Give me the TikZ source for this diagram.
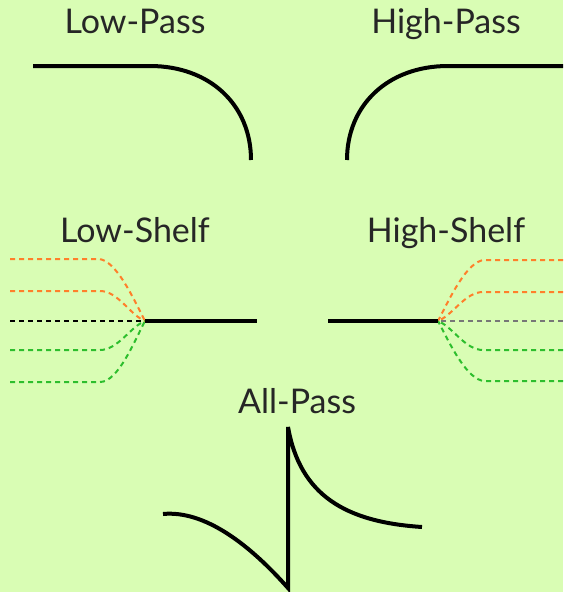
\documentclass[tikz,border=0pt]{standalone}
\usepackage{fontspec}
\setmainfont{Lato}
\definecolor{bg}{HTML}{D9FDB4}
\definecolor{orng}{HTML}{FF7F2A}
\definecolor{grn}{HTML}{2DBE2D}
\definecolor{gry}{HTML}{777777}
\begin{document}
\begin{tikzpicture}[x=1pt,y=-1pt,
  curve/.style={line width=4pt,black},
  shelf/.style={line width=2pt,dash pattern=on 5pt off 4pt},
  lbl/.style={font=\fontsize{34}{38}\selectfont,text=black!85,inner sep=0pt,anchor=base}]
\fill[bg] (0,0) rectangle (563,592);
\useasboundingbox (0,0) rectangle (563,592);
% titles
\node[lbl] (lp) at (135,33) {Low-Pass};
\node[lbl] (hp) at (446,33) {High-Pass};
\node[lbl] (ls) at (135,242) {Low-Shelf};
\node[lbl] (hs) at (446,242) {High-Shelf};
\node[lbl] (ap) at (297,413) {All-Pass};
% low-pass / high-pass
\draw[curve] (33,66) -- (150,66) .. controls (210,66) and (251,105) .. (251,160);
\draw[curve] (347,160) .. controls (347,105) and (388,66) .. (448,66) -- (563,66);
% low shelf
\coordinate (lsj) at (145,321);
\draw[shelf,orng] (10,259) -- (98,259) .. controls (116,259) and (134,300) .. (lsj);
\draw[shelf,orng] (10,291) -- (100,291) .. controls (118,291) and (130,315) .. (lsj);
\draw[shelf,black] (10,321) -- (lsj);
\draw[shelf,grn] (10,350) -- (100,350) .. controls (118,350) and (130,327) .. (lsj);
\draw[shelf,grn] (10,382) -- (100,382) .. controls (118,382) and (134,342) .. (lsj);
\draw[curve] (lsj) -- (257,321);
% high shelf
\coordinate (hsj) at (438,321);
\draw[shelf,orng] (563,260) -- (485,260) .. controls (467,260) and (449,300) .. (hsj);
\draw[shelf,orng] (563,292) -- (483,292) .. controls (465,292) and (453,315) .. (hsj);
\draw[shelf,gry] (563,321) -- (hsj);
\draw[shelf,grn] (563,350) -- (483,350) .. controls (465,350) and (453,327) .. (hsj);
\draw[shelf,grn] (563,381) -- (485,381) .. controls (467,381) and (449,342) .. (hsj);
\draw[curve] (328,321) -- (hsj);
% all-pass
\draw[curve,line join=miter] (163,514) .. controls (205,510) and (250,545) .. (288,588) -- (288,427)
  .. controls (300,495) and (345,522) .. (422,527);
\end{tikzpicture}
\end{document}
